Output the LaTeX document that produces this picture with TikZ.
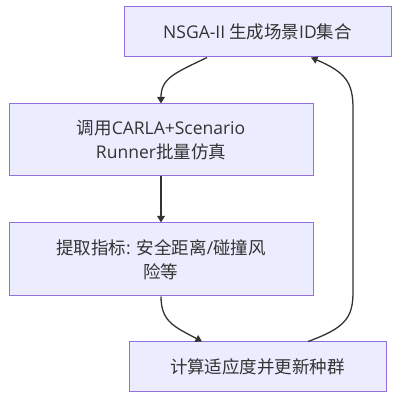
\documentclass[tikz,border=0pt]{standalone}
\usepackage{fontspec}
\setmainfont{Noto Sans CJK SC}
\newfontfamily\latf{Open Sans}
\newcommand{\lw}[1]{{\latf #1}}
\usetikzlibrary{arrows.meta}
\definecolor{boxfill}{HTML}{ECECFF}
\definecolor{boxline}{HTML}{9370DB}
\definecolor{ink}{HTML}{333333}
\tikzset{
  procbox/.style={draw=boxline, fill=boxfill, line width=1pt, text=ink,
    minimum width=#1, inner sep=0pt, align=center,
    font=\fontsize{17.5pt}{23.5pt}\selectfont},
  flow/.style={draw=ink, line width=1.3pt, -{Triangle[length=6.5pt,width=7.5pt]}}
}
\begin{document}
\begin{tikzpicture}[x=1pt,y=1pt]
\useasboundingbox (0,0) rectangle (400,400);
\node[procbox=267pt, minimum height=50pt] (b1) at (257.5,368) {\lw{NSGA-II} 生成场景\lw{ID}集合};
\node[procbox=304pt, minimum height=72pt] (b2) at (161,260) {调用\lw{CARLA+Scenario}\\\lw{Runner}批量仿真};
\node[procbox=304pt, minimum height=73pt] (b3) at (161,140.5) {提取指标\lw{: }安全距离\lw{/}碰撞风\\险等};
\node[procbox=257pt, minimum height=50pt] (b4) at (257.5,33) {计算适应度并更新种群};
\coordinate (a1s) at ([xshift=-50.5pt]b1.south);
\coordinate (a4e) at ([xshift=53.5pt]b1.south);
\coordinate (a3e) at ([xshift=-55.5pt]b4.north);
\coordinate (a4s) at ([xshift=50.5pt]b4.north);
\draw[flow] (a1s) .. controls (175,327) and (161,322) .. (b2.north);
\draw[flow] (b2.south) -- (b3.north);
\draw[flow] (b3.south) .. controls (161,78) and (175,73) .. (a3e);
\draw[flow] (a4s) .. controls (345,72) and (353,82) .. (353,108) -- (353,292) .. controls (353,318) and (345,328) .. (a4e);
\end{tikzpicture}
\end{document}
